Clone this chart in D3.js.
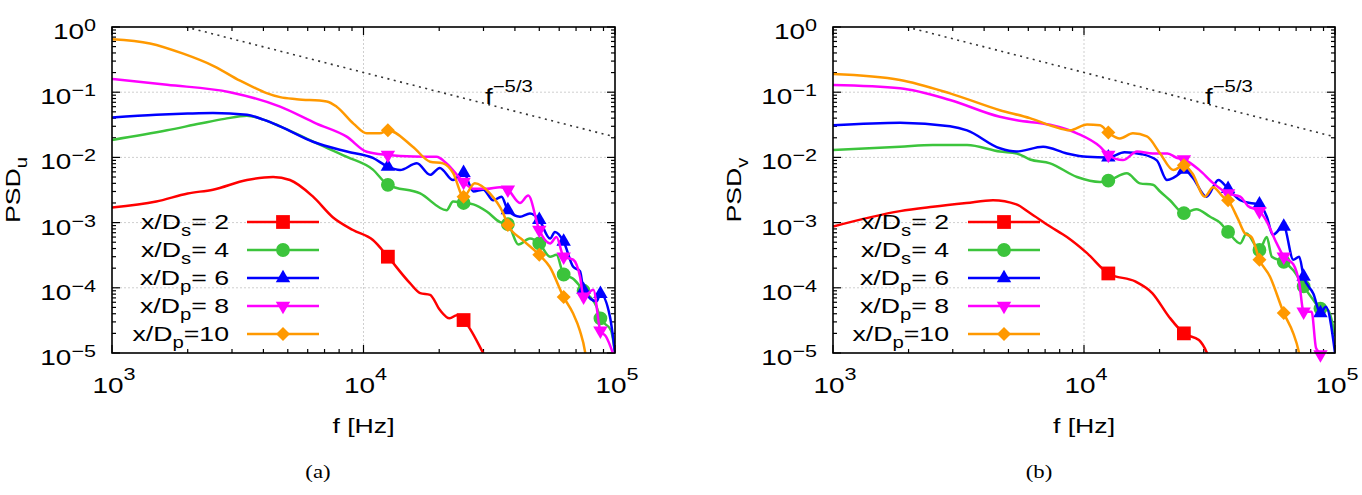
<!DOCTYPE html>
<html><head><meta charset="utf-8">
<script src="https://cdn.jsdelivr.net/npm/d3@7"></script>
<style>body{margin:0;background:#fff}svg{display:block}</style>
</head><body><svg id="chart" width="1362" height="495"></svg>
<script>
// ---------- data ----------
const seriesSub = ["s", "s", "p", "p", "p"];
const seriesVal = ["= 2", "= 4", "= 6", "= 8", "=10"];
const seriesColors = ["#ff0000", "#3cc43c", "#0000ff", "#ff00ff", "#ff9900"];
const markerFreqs = [12500, 25000, 37500, 50000, 62500, 75000, 87500];
const xTickVals = [1e3, 1e4, 1e5];
const yTickVals = [1, 1e-1, 1e-2, 1e-3, 1e-4, 1e-5];
const refLine = [[1968, 1], [1e5, 0.0206]];
const refLabel = ["f", "−5/3"];

// panel (a): PSD_u
const uRed = [[1000,1.7e-3],[1500,2.1e-3],[2000,2.8e-3],[2520,3.2e-3],[3440,4.5e-3],[4370,5.0e-3],[5100,4.5e-3],[6300,2.5e-3],[7570,1.2e-3],[9080,7.7e-4],[10900,5.4e-4],[12500,3.0e-4],[15300,1.18e-4],[16800,8.3e-5],[18400,7.8e-5],[20100,4.6e-5],[22000,3.4e-5],[23500,3.8e-5],[25000,3.2e-5],[29900,1.0e-5],[32000,6e-6]];
const uGreen = [[1000,0.0185],[1655,0.026],[2240,0.033],[2800,0.039],[3440,0.0435],[4000,0.038],[4660,0.030],[6300,0.0174],[8590,0.0102],[10900,0.0065],[12500,0.0038],[16800,0.0028],[21400,0.00155],[22700,0.0021],[25000,0.0020],[27350,0.0019],[30900,0.00148],[34900,0.00102],[37500,0.00095],[41300,0.00046],[45900,0.00057],[50000,0.00048],[55200,0.00030],[58500,0.00032],[62500,0.00016],[68200,0.000138],[75000,9e-5],[84500,5.1e-5],[87500,3.4e-5],[96500,2.2e-5],[100000,1e-5]];
const uBlue = [[1000,0.041],[1500,0.045],[2000,0.047],[2520,0.048],[3440,0.045],[4000,0.038],[4660,0.030],[6300,0.0174],[8590,0.0123],[10900,0.0098],[12500,0.0072],[13970,0.0064],[16300,0.0081],[18400,0.0054],[20100,0.0069],[22700,0.0045],[25000,0.0058],[27350,0.0030],[29950,0.0032],[32800,0.0022],[35400,0.0025],[37500,0.00155],[41900,0.00123],[45900,0.00138],[50000,0.0011],[55200,0.00057],[57700,0.00072],[62500,0.00051],[68200,0.00021],[72600,0.00018],[75000,9.3e-5],[84500,6.2e-5],[87500,8.1e-5],[95500,3.6e-5],[100000,1e-5]];
const uMagenta = [[1000,0.16],[1655,0.13],[2945,0.10],[4660,0.060],[6500,0.033],[8570,0.0208],[10300,0.0122],[12500,0.0109],[15800,0.0103],[19500,0.0102],[21400,0.0081],[25000,0.0042],[27350,0.0033],[30900,0.0033],[34900,0.0035],[37500,0.0032],[41900,0.0020],[45200,0.0026],[50000,0.00077],[55200,0.00048],[58500,0.0006],[62500,0.0003],[68200,0.00027],[72600,0.000148],[75000,7.3e-5],[82000,9.3e-5],[87500,2.2e-5],[92000,1.8e-5],[100000,8e-6]];
const uOrange = [[1000,0.65],[1416,0.56],[1920,0.39],[2550,0.25],[3230,0.15],[3640,0.12],[4120,0.097],[4660,0.084],[5420,0.078],[7140,0.072],[7820,0.060],[9120,0.033],[10300,0.0234],[11600,0.0234],[12500,0.026],[15700,0.0146],[18400,0.0086],[20700,0.0081],[22700,0.0058],[25000,0.0025],[27700,0.0040],[31800,0.0028],[35900,0.0014],[37500,0.00092],[43000,0.00054],[50000,0.00032],[55000,0.00021],[62500,7.2e-5],[68000,4.1e-5],[72500,2.2e-5],[76000,1.05e-5],[77500,6e-6]];

// panel (b): PSD_v
const vRed = [[1000,0.00087],[1850,0.0015],[2500,0.00175],[3400,0.0020],[4340,0.0022],[5380,0.0019],[6090,0.0014],[7330,0.00087],[8550,0.0006],[10280,0.00034],[12500,0.000166],[16070,0.000124],[18700,8.3e-5],[21800,3.6e-5],[25000,2.0e-5],[28700,1.58e-5],[30900,1.0e-5],[32000,7e-6]];
const vGreen = [[1000,0.0130],[1850,0.0146],[2500,0.0155],[3420,0.0155],[4620,0.0123],[5400,0.0115],[6090,0.0093],[7330,0.0081],[9380,0.0050],[11580,0.0042],[12500,0.0044],[14800,0.0057],[16700,0.0040],[18800,0.0038],[20100,0.0030],[22000,0.0022],[25000,0.0014],[28000,0.0016],[31800,0.00123],[34800,0.0010],[37500,0.00072],[41900,0.00048],[44400,0.00068],[50000,0.00038],[53500,0.0006],[56000,0.0003],[62500,0.00025],[68200,0.000186],[75000,0.000105],[82000,6.5e-5],[87500,4.8e-5],[94000,4.5e-5],[100000,1.8e-5]];
const vBlue = [[1000,0.031],[1850,0.034],[2925,0.030],[3420,0.026],[4620,0.0138],[5380,0.0123],[6870,0.0146],[8550,0.0115],[10280,0.0102],[12500,0.0100],[14500,0.0120],[17000,0.0112],[19500,0.0090],[21400,0.0045],[24100,0.0057],[25000,0.0065],[27000,0.0050],[30800,0.0025],[34300,0.0045],[37500,0.0033],[41900,0.0022],[45800,0.0020],[50000,0.0019],[53500,0.00123],[56500,0.00065],[62500,0.00087],[68200,0.00027],[72000,0.0003],[75000,0.000148],[82000,8.1e-5],[87500,4.1e-5],[92000,5.1e-5],[100000,1e-5]];
const vMagenta = [[1000,0.129],[1850,0.115],[2925,0.076],[4620,0.042],[5400,0.037],[7330,0.0316],[9380,0.0234],[11580,0.0146],[12500,0.0109],[14300,0.0091],[16270,0.0123],[18800,0.0115],[21500,0.0115],[23500,0.0098],[25000,0.0093],[28700,0.0065],[32800,0.0040],[37500,0.0028],[41900,0.0025],[45000,0.0018],[50000,0.0015],[53000,0.0011],[58600,0.00048],[62500,0.0003],[68200,0.00023],[72000,0.00012],[75000,4.3e-5],[80700,4.3e-5],[84000,1.2e-5],[87500,9.5e-6],[90000,5e-6]];
const vOrange = [[1000,0.19],[1850,0.154],[2925,0.096],[4620,0.053],[6090,0.040],[7520,0.030],[8790,0.026],[10280,0.032],[11580,0.031],[12500,0.024],[13900,0.0195],[15660,0.0234],[17800,0.021],[20100,0.0115],[22700,0.0064],[25000,0.0076],[27000,0.0057],[30300,0.0025],[32700,0.0035],[35800,0.0025],[37500,0.0022],[41000,0.00115],[43800,0.00068],[46500,0.0006],[50000,0.00027],[55100,0.000148],[62500,4.1e-5],[68200,2.0e-5],[71500,1.1e-5],[73000,7e-6]];

// ---------- layout ----------
const SX = 1.27;
const SANS = "'Liberation Sans', Arial, sans-serif";
const SERIF = "'Liberation Serif', 'DejaVu Serif', serif";
const panels = [
  {x0:112, x1:615, y0:27, y1:353, series:[uRed,uGreen,uBlue,uMagenta,uOrange], sub:"u", tag:"(a)", tagX:318, ylabX:20, legTextX:229, legL:247, legR:319, refX:485},
  {x0:833, x1:1335, y0:27, y1:353, series:[vRed,vGreen,vBlue,vMagenta,vOrange], sub:"v", tag:"(b)", tagX:1039, ylabX:741, legTextX:949, legL:968, legR:1040, refX:1205}
];
const legendRows = [222, 250, 278, 306, 334];

const svg = d3.select("#chart");
svg.append("rect").attr("width",1362).attr("height",495).attr("fill","#fff");

function label(g, x, y, parts, o) {
  o = Object.assign({anchor:"middle", size:21, rotate:0, family:SANS, sx:SX}, o||{});
  const t = g.append("text")
    .attr("transform", `translate(${x},${y})` + (o.rotate ? ` rotate(${o.rotate})` : "") + ` scale(${o.sx},1)`)
    .attr("text-anchor", o.anchor).attr("font-family", o.family).attr("font-size", o.size).attr("fill", "#000");
  let cur = 0;
  parts.forEach(p => {
    const sh = p.shift || 0;
    t.append("tspan").attr("dy", sh - cur).attr("font-size", p.size || o.size).text(p.t);
    cur = sh;
  });
  return t;
}
function expStr(v) { const e = Math.round(Math.log10(v)); return (e < 0 ? "−" : "") + Math.abs(e); }

function symbolFor(i) {
  const specs = [
    [d3.symbolSquare, 190, 0],
    [d3.symbolCircle, 150, 0],
    [d3.symbolTriangle, 90, 0],
    [d3.symbolTriangle, 90, 180],
    [d3.symbolSquare, 98, 45]
  ];
  const s = specs[i];
  return {path: d3.symbol(s[0], s[1])(), rot: s[2]};
}

panels.forEach((P, pi) => {
  const g = svg.append("g");
  const x = d3.scaleLog().domain([1e3, 1e5]).range([P.x0, P.x1]);
  const y = d3.scaleLog().domain([1e-5, 1]).range([P.y1, P.y0]);

  // grid
  xTickVals.filter(v => v > 1e3 && v < 1e5).forEach(v => {
    g.append("line").attr("x1", x(v)).attr("x2", x(v)).attr("y1", P.y0).attr("y2", P.y1)
      .attr("stroke", "#cfcfcf").attr("stroke-width", 1).attr("stroke-dasharray", "2,2");
  });
  yTickVals.filter(v => v > 1e-5 && v < 1).forEach(v => {
    g.append("line").attr("x1", P.x0).attr("x2", P.x1).attr("y1", y(v)).attr("y2", y(v))
      .attr("stroke", "#cfcfcf").attr("stroke-width", 1).attr("stroke-dasharray", "2,2");
  });

  // ticks (inward, mirrored)
  const isMajor = v => Math.abs(Math.log10(v) - Math.round(Math.log10(v))) < 1e-9;
  x.ticks().forEach(v => {
    const L = isMajor(v) ? 8 : 4;
    g.append("line").attr("x1", x(v)).attr("x2", x(v)).attr("y1", P.y1).attr("y2", P.y1 - L).attr("stroke", "#000").attr("stroke-width", 1.2);
    g.append("line").attr("x1", x(v)).attr("x2", x(v)).attr("y1", P.y0).attr("y2", P.y0 + L).attr("stroke", "#000").attr("stroke-width", 1.2);
  });
  y.ticks().forEach(v => {
    const L = isMajor(v) ? 8 : 4;
    g.append("line").attr("x1", P.x0).attr("x2", P.x0 + L).attr("y1", y(v)).attr("y2", y(v)).attr("stroke", "#000").attr("stroke-width", 1.2);
    g.append("line").attr("x1", P.x1).attr("x2", P.x1 - L).attr("y1", y(v)).attr("y2", y(v)).attr("stroke", "#000").attr("stroke-width", 1.2);
  });

  // tick labels
  yTickVals.forEach(v => {
    label(g, P.x0 - 16, y(v) + 12, [{t:"10"}, {t:expStr(v), shift:-8, size:17}], {anchor:"end", size:22});
  });
  xTickVals.forEach(v => {
    label(g, x(v) + 2, P.y1 + 40, [{t:"10"}, {t:expStr(v), shift:-13, size:17}], {size:22});
  });

  // axis titles
  label(g, (P.x0 + P.x1) / 2, 433, [{t:"f [Hz]"}]);
  label(g, P.ylabX, (P.y0 + P.y1) / 2, [{t:"PSD"}, {t:P.sub, shift:7, size:16}], {rotate:-90});
  label(g, P.tagX, 478, [{t:P.tag}], {family:SERIF, size:19, sx:1.2});

  // clip
  const cid = "clip" + pi;
  svg.append("clipPath").attr("id", cid).append("rect")
    .attr("x", P.x0).attr("y", P.y0).attr("width", P.x1 - P.x0).attr("height", P.y1 - P.y0);

  // reference f^-5/3 line
  g.append("path").datum(refLine).attr("clip-path", `url(#${cid})`)
    .attr("d", d3.line().x(d => x(d[0])).y(d => y(d[1])))
    .attr("fill", "none").attr("stroke", "#333").attr("stroke-width", 1.6).attr("stroke-dasharray", "2,4.5");
  label(g, P.refX, 104, [{t:refLabel[0]}, {t:refLabel[1], shift:-12, size:16}], {anchor:"start", size:22});

  // series
  const line = d3.line().x(d => x(d[0])).y(d => y(d[1])).curve(d3.curveMonotoneX);
  P.series.forEach((data, si) => {
    const col = seriesColors[si];
    g.append("path").datum(data).attr("clip-path", `url(#${cid})`)
      .attr("d", line).attr("fill", "none").attr("stroke", col).attr("stroke-width", 2.5).attr("stroke-linejoin", "round");
    const sym = symbolFor(si);
    data.filter(d => markerFreqs.includes(d[0]) && d[1] >= 9e-6).forEach(d => {
      g.append("path").attr("d", sym.path)
        .attr("transform", `translate(${x(d[0])},${y(d[1])}) rotate(${sym.rot})`)
        .attr("fill", col);
    });
  });

  // legend
  legendRows.forEach((ry, si) => {
    const col = seriesColors[si];
    label(g, P.legTextX, ry + 7, [{t:"x/D"}, {t:seriesSub[si], shift:7, size:16}, {t:seriesVal[si], shift:0}], {anchor:"end"});
    g.append("line").attr("x1", P.legL).attr("x2", P.legR).attr("y1", ry).attr("y2", ry)
      .attr("stroke", col).attr("stroke-width", 2.5);
    const sym = symbolFor(si);
    g.append("path").attr("d", sym.path)
      .attr("transform", `translate(${(P.legL + P.legR) / 2},${ry}) rotate(${sym.rot})`).attr("fill", col);
  });

  // border
  g.append("rect").attr("x", P.x0).attr("y", P.y0).attr("width", P.x1 - P.x0).attr("height", P.y1 - P.y0)
    .attr("fill", "none").attr("stroke", "#000").attr("stroke-width", 1.6);
});
</script>
</body></html>
